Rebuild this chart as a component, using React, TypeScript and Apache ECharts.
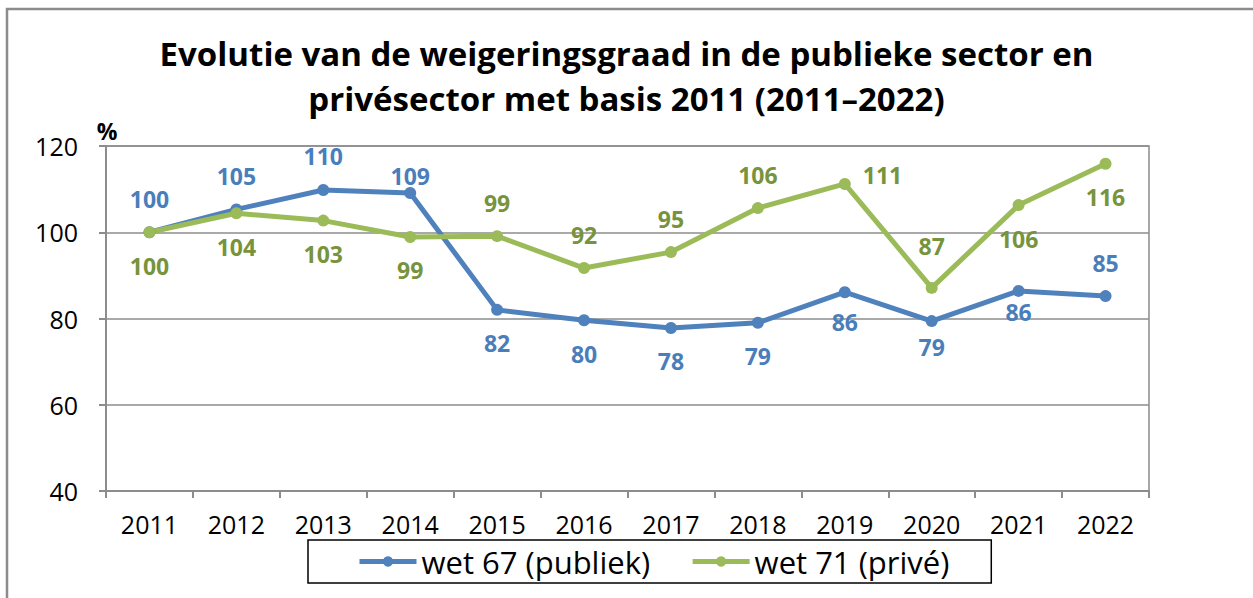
import React, { useEffect, useRef } from "react";
import * as echarts from "echarts";

const years = ["2011", "2012", "2013", "2014", "2015", "2016", "2017", "2018", "2019", "2020", "2021", "2022"];
const publiek = [100, 105.3, 109.8, 109.1, 82.0, 79.6, 77.8, 79.0, 86.1, 79.4, 86.4, 85.2];
const prive = [100, 104.4, 102.7, 98.9, 99.1, 91.7, 95.4, 105.6, 111.2, 87.1, 106.3, 115.9];
const yTicks = { min: 40, max: 120, interval: 20 };

// label placement (style only)
const publiekPos = ["top", "top", "top", "top", "bottom", "bottom", "bottom", "bottom", "bottom", "bottom", "bottom", "top"];
const publiekOff = [[0, 0], [0, 0], [0, 0], [0, 16], [0, 0], [0, 0], [0, 0], [0, 0], [0, -4], [0, -8], [0, -12], [0, 0]];
const privePos = ["bottom", "bottom", "bottom", "bottom", "top", "top", "top", "top", "right", "top", "bottom", "bottom"];
const priveOff = [[0, 0], [0, 0], [0, 0], [0, 0], [0, 0], [0, 0], [0, 0], [0, 0], [0, -9], [0, -8], [0, 0], [0, 0]];

const FONT = "'Open Sans', 'Noto Sans', sans-serif";
const BLUE = "#4F81BD";
const GREEN = "#9BBB59";
const BLUE_LBL = "#4A7EBB";
const GREEN_LBL = "#77933C";

function buildData(vals: number[], pos: string[], off: number[][]) {
  return vals.map((v, i) => ({
    value: v,
    label: {
      position: pos[i],
      offset: off[i],
      distance: pos[i] === "right" ? 12 : 16,
    },
  }));
}

export default function App() {
  const ref = useRef<HTMLDivElement>(null);
  useEffect(() => {
    document.body.style.margin = "0";
    if (!ref.current) return;
    const chart = echarts.init(ref.current, null, { renderer: "svg" });
    const labelBase = (color: string) => ({
      show: true,
      color,
      fontFamily: FONT,
      fontWeight: "bold" as const,
      fontSize: 23,
      formatter: (p: any) => String(Math.round(p.value)),
    });
    chart.setOption({
      animation: false,
      backgroundColor: "#fff",
      textStyle: { fontFamily: FONT },
      title: {
        text: "Evolutie van de weigeringsgraad in de publieke sector en\nprivésector met basis 2011 (2011–2022)",
        left: "center",
        top: 26,
        textStyle: {
          fontFamily: FONT,
          fontWeight: "bold",
          fontSize: 33,
          lineHeight: 45,
          color: "#000",
        },
      },
      grid: {
        left: 106,
        top: 146,
        right: 104,
        bottom: 107,
        show: true,
        borderColor: "#8C8C8C",
        borderWidth: 1.5,
        containLabel: false,
      },
      legend: {
        left: 308,
        top: 540,
        orient: "horizontal",
        borderColor: "#000",
        borderWidth: 1.5,
        padding: [6, 42, 6, 49],
        itemGap: 40,
        itemWidth: 57,
        itemHeight: 13,
        lineStyle: { width: 5 },
        textStyle: { fontFamily: FONT, fontSize: 31, color: "#000" },
        data: ["wet 67 (publiek)", "wet 71 (privé)"],
      },
      xAxis: {
        type: "category",
        data: years,
        boundaryGap: true,
        axisLine: { lineStyle: { color: "#8C8C8C", width: 2 } },
        axisTick: { show: true, length: 7, lineStyle: { color: "#8C8C8C", width: 2 } },
        axisLabel: { color: "#000", fontFamily: FONT, fontSize: 25, margin: 20 },
        splitLine: { show: false },
      },
      yAxis: {
        type: "value",
        min: yTicks.min,
        max: yTicks.max,
        interval: yTicks.interval,
        axisLine: { show: true, lineStyle: { color: "#8C8C8C", width: 2 } },
        axisTick: { show: true, length: 7, lineStyle: { color: "#8C8C8C", width: 2 } },
        axisLabel: { color: "#000", fontFamily: FONT, fontSize: 25, margin: 28 },
        splitLine: { show: true, lineStyle: { color: "#8C8C8C", width: 1.5 } },
      },
      graphic: [
        {
          type: "rect",
          shape: { x: 7, y: 9, width: 1270, height: 620 },
          style: { fill: "none", stroke: "#8C8C8C", lineWidth: 2.5 },
          silent: true,
        },
        {
          type: "text",
          x: 107,
          y: 131,
          style: {
            text: "%",
            fontFamily: FONT,
            fontWeight: "bold",
            fontSize: 23,
            fill: "#000",
            align: "center",
            verticalAlign: "middle",
          },
        },
      ],
      series: [
        {
          name: "wet 67 (publiek)",
          type: "line",
          data: buildData(publiek, publiekPos, publiekOff),
          symbol: "circle",
          symbolSize: 12,
          lineStyle: { color: BLUE, width: 5 },
          itemStyle: { color: BLUE },
          label: labelBase(BLUE_LBL),
        },
        {
          name: "wet 71 (privé)",
          type: "line",
          data: buildData(prive, privePos, priveOff),
          symbol: "circle",
          symbolSize: 12,
          lineStyle: { color: GREEN, width: 5 },
          itemStyle: { color: GREEN },
          label: labelBase(GREEN_LBL),
        },
      ],
    });
    return () => chart.dispose();
  }, []);
  return <div ref={ref} style={{ width: 1253, height: 598 }} />;
}
